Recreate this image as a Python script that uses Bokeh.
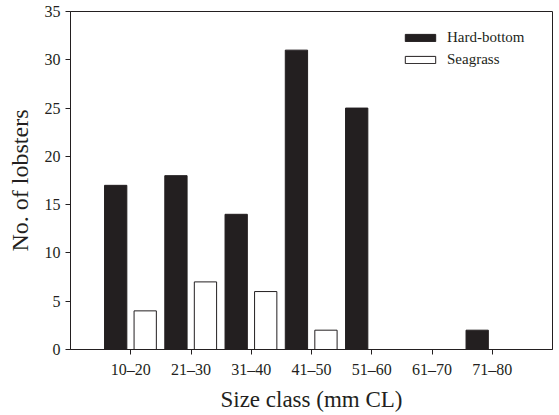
from bokeh.plotting import figure
from bokeh.models import Range1d, FixedTicker, Legend, LegendItem, ColumnDataSource
from bokeh.embed import file_html
from bokeh.resources import INLINE

categories = ["10–20", "21–30", "31–40", "41–50", "51–60", "61–70", "71–80"]
hard_bottom = [17, 18, 14, 31, 25, 0, 2]
seagrass = [4, 7, 6, 2, 0, 0, 0]

pos = list(range(1, len(categories) + 1))
src = ColumnDataSource(dict(
    x_hb=[p - 0.25 for p in pos],
    x_sg=[p + 0.24 for p in pos],
    hb=hard_bottom,
    sg=seagrass,
))

FONT = "Liberation Serif"

p = figure(width=557, height=413, output_backend="svg", toolbar_location=None,
           x_range=Range1d(0, 8), y_range=Range1d(0, 35),
           frame_width=482, frame_height=338,
           min_border_left=70, min_border_right=5, min_border_top=11, min_border_bottom=64)

hb_r = p.vbar(x="x_hb", top="hb", width=0.37, source=src,
              fill_color="#231f20", line_color="#231f20", line_width=1)
sg_r = p.vbar(x="x_sg", top="sg", width=0.37, source=src,
              fill_color="white", line_color="#231f20", line_width=1)

p.xgrid.visible = False
p.ygrid.visible = False
p.outline_line_color = "#231f20"
p.outline_line_width = 1
p.background_fill_color = "white"
p.border_fill_color = "white"

p.xaxis.ticker = FixedTicker(ticks=pos)
p.xaxis.major_label_overrides = {i + 1: c for i, c in enumerate(categories)}
p.yaxis.ticker = FixedTicker(ticks=[0, 5, 10, 15, 20, 25, 30, 35])

for ax in (p.xaxis[0], p.yaxis[0]):
    ax.minor_tick_line_color = None
    ax.major_tick_in = 0
    ax.major_tick_out = 5
    ax.axis_line_color = "#231f20"
    ax.major_tick_line_color = "#231f20"
    ax.major_label_text_font = FONT
    ax.major_label_text_font_size = "16px"
    ax.major_label_text_color = "#231f20"
    ax.axis_label_text_font = FONT
    ax.axis_label_text_font_style = "normal"
    ax.axis_label_text_color = "#231f20"

p.xaxis.axis_label = "Size class (mm CL)"
p.yaxis.axis_label = "No. of lobsters"
p.xaxis.axis_label_text_font_size = "23px"
p.yaxis.axis_label_text_font_size = "24px"
p.xaxis.major_label_standoff = 6
p.yaxis.major_label_standoff = 5
p.xaxis.axis_label_standoff = 6
p.yaxis.axis_label_standoff = 9

legend = Legend(items=[LegendItem(label="Hard-bottom", renderers=[hb_r]),
                       LegendItem(label="Seagrass", renderers=[sg_r])],
                location=(331, 281), border_line_color=None,
                background_fill_alpha=0, glyph_width=38, glyph_height=9,
                label_text_font=FONT, label_text_font_size="15px",
                label_text_color="#231f20", label_standoff=8, spacing=4,
                padding=2, margin=0, label_height=18)
p.add_layout(legend)

open("out.html", "w").write(file_html(p, INLINE))
